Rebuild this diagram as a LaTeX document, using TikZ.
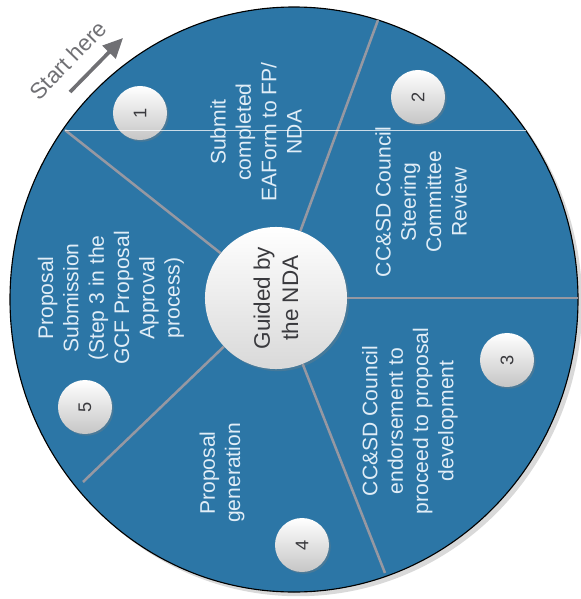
\documentclass[tikz,border=0pt]{standalone}
\usepackage{fontspec}
\setmainfont{Liberation Sans}
\usetikzlibrary{shadows,arrows.meta}
\definecolor{wheelblue}{RGB}{44,118,166}
\definecolor{steplight}{RGB}{224,237,247}
\definecolor{hubtext}{RGB}{58,58,62}
\definecolor{spokegray}{RGB}{150,152,162}
\definecolor{hintgray}{RGB}{112,112,116}

\begin{document}
\begin{tikzpicture}[x=0.025cm, y=-0.025cm,
    steptext/.style={rotate=90, align=center, text=steplight, font=\fontsize{15}{18}\selectfont},
    badge/.style={circle, minimum size=1.35cm, inner sep=0pt, top color=white, bottom color=gray!45,
      drop shadow={opacity=0.35, shadow xshift=1.2pt, shadow yshift=-1.2pt}, text=hubtext,
      font=\fontsize{13}{15}\selectfont, rotate=90},
    spoke/.style={draw=spokegray, line width=1.8pt}
  ]
    \useasboundingbox (0,0) rectangle (580,599);
    % the wheel
    \fill[wheelblue, draw=black, line width=0.8pt, drop shadow={opacity=0.3, shadow xshift=3pt, shadow yshift=-3pt}]
      (294,299.5) ellipse [x radius=284, y radius=292.5];
    \node[circle, minimum size=3.55cm, inner sep=0pt, top color=white, bottom color=gray!30, rotate=90,
      drop shadow={opacity=0.3, shadow xshift=1.5pt, shadow yshift=-1.5pt},
      align=center, text=hubtext, font=\fontsize{16}{20}\selectfont] (hub) at (276,298) {Guided by\\the NDA};
    % hub is turned by 90, so its anchors are too
    \foreach \a/\x/\y in {51.5/65/130, -20.1/378/20, -90/578/298, -158.4/385/573, 133.6/83/482}
      \draw[spoke] (hub.\a) -- (\x,\y);
    % steps
    \node[steptext] (t1) at (256,132) {Submit\\completed\\EAForm to FP/\\NDA};
    \node[steptext] (t2) at (421,202) {CC\&SD Council\\Steering\\Committee\\Review};
    \node[steptext] (t3) at (410,421) {CC\&SD Council\\endorsement to\\proceed to proposal\\development};
    \node[steptext] (t4) at (222,473) {Proposal\\generation};
    \node[steptext] (t5) at (111,298) {Proposal\\Submission\\(Step 3 in the\\GCF Proposal\\Approval\\process)};
    \node[badge] (b1) at (140,113) {1};
    \node[badge] (b2) at (418,97) {2};
    \node[badge] (b3) at (507,360) {3};
    \node[badge] (b4) at (302,545) {4};
    \node[badge] (b5) at (85,407) {5};
    \draw[white, opacity=0.75, line width=0.6pt] (65,130) -- (526,130);
    % start marker
    \node[rotate=46, text=hintgray, font=\fontsize{16}{18}\selectfont] (start) at (68,60) {Start here};
    \coordinate (tail) at (70,92);
    \coordinate (tip) at (123,38);
    \draw[hintgray, line width=2.6pt, -{Triangle[length=0.5cm, width=0.45cm]}] (tail) -- (tip);
  \end{tikzpicture}
\end{document}
